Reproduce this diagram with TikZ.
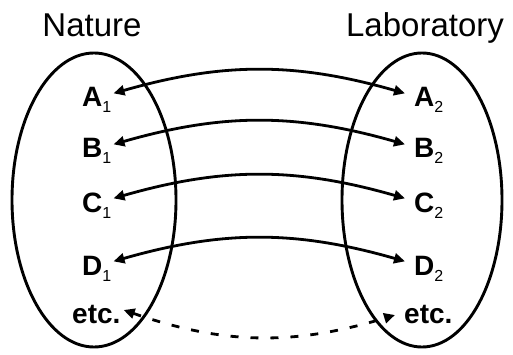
\documentclass[tikz,border=0pt]{standalone}
\usepackage{fontspec}
\setmainfont{Liberation Sans}
\usetikzlibrary{arrows.meta,positioning}
\newcommand{\elab}[2]{\textbf{#1}\smash{\raisebox{-6pt}{\fontsize{16}{16}\selectfont #2}}}
\tikzset{
  realm/.style={line width=2.9pt},
  ent/.style={inner sep=0pt, anchor=base west, font=\fontsize{28}{28}\selectfont},
  title/.style={inner sep=0pt, anchor=base, font=\fontsize{33}{33}\selectfont},
  link/.style={line width=2.8pt, {Triangle[length=11pt,width=10pt]}-{Triangle[length=11pt,width=10pt]}},
}

\begin{document}
\begin{tikzpicture}[x=1pt,y=1pt]
  \useasboundingbox (0,0) rectangle (513,-355);
  % the two domains
  \draw[realm] (94,-200) ellipse [x radius=82, y radius=147];
  \draw[realm] (422,-200) ellipse [x radius=80, y radius=147];
  \node[title] (nat) at (92,-37) {Nature};
  \node[title] (lab) at (425,-37) {Laboratory};
  % corresponding entries
  \foreach \n/\l/\y in {a/A/107, b/B/158, c/C/212, d/D/275} {
    \node[ent] (\n1) at (82,-\y) {\elab{\l}{1}};
    \node[ent] (\n2) at (414,-\y) {\elab{\l}{2}};
    \draw[link] ([shift={(2,4)}]\n1.east) to[bend left=16] ([shift={(-9,4)}]\n2.west);
  }
  \node[ent] (e1) at (72,-323) {\textbf{etc.}};
  \node[ent] (e2) at (404,-323) {\textbf{etc.}};
  \draw[link, dash pattern=on 8pt off 12pt] ([shift={(3,4)}]e1.east) to[bend right=18] ([shift={(-9,-1)}]e2.west);
\end{tikzpicture}
\end{document}
